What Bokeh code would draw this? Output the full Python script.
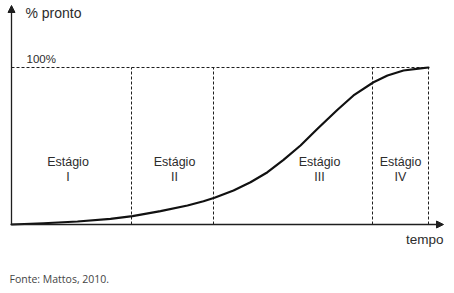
from bokeh.plotting import figure
from bokeh.models import Range1d, Label, Arrow, NormalHead
from bokeh.embed import file_html
from bokeh.resources import INLINE

# Data (time in arbitrary units, completion in %)
tempo = [0, 32, 66, 99, 121, 149, 176, 192, 203, 222, 239, 256, 272, 289, 306, 326, 342, 362, 376, 392, 409, 417]
pronto = [0, 0.8, 1.9, 3.6, 5.3, 8.5, 12.1, 14.8, 17.0, 21.7, 26.9, 33.3, 41.2, 50.3, 61.0, 73.1, 82.2, 90.6, 94.9, 98.1, 99.4, 100]
stage_bounds = [120, 202, 361, 417]
stage_names = ["Estágio", "Estágio", "Estágio", "Estágio"]
stage_numerals = ["I", "II", "III", "IV"]
stage_label_x = [56.5, 163, 308, 389]

PX = 1.57  # pixels per % on the y scale
UP = 4     # baseline correction in px

p = figure(width=454, height=293, output_backend="svg", toolbar_location=None,
           x_range=Range1d(-11, 443), y_range=Range1d(-43.95, 142.68),
           min_border=0, min_border_left=0, min_border_right=0,
           min_border_top=0, min_border_bottom=0)
p.axis.visible = False
p.grid.visible = False
p.outline_line_color = None
p.background_fill_color = "white"

line_col = "#1e1e1e"
txt_col = "#2c2c2c"
font = "Liberation Sans"

def ypx(py):
    return (224 - py + UP) / PX

# 100% dashed line
p.line([0, stage_bounds[-1]], [100, 100], line_color=line_col, line_width=1, line_dash="3 2")
# vertical dashed boundaries
for b in stage_bounds:
    p.line([b, b], [0, 100], line_color=line_col, line_width=1, line_dash="3 2")

# curve
p.line(tempo, pronto, line_color="#111111", line_width=2.2, line_join="round", line_cap="round")

# axes with arrows
p.add_layout(Arrow(end=NormalHead(size=7, fill_color=line_col, line_color=line_col),
                   x_start=0, y_start=0, x_end=0, y_end=139.5,
                   line_color=line_col, line_width=1.3))
p.add_layout(Arrow(end=NormalHead(size=7, fill_color=line_col, line_color=line_col),
                   x_start=0, y_start=0, x_end=432, y_end=0,
                   line_color=line_col, line_width=1.3))

# texts
p.add_layout(Label(x=14, y=ypx(16), text="% pronto", text_font=font,
                   text_font_size="14px", text_color=txt_col, text_baseline="alphabetic"))
p.add_layout(Label(x=15, y=ypx(62), text="100%", text_font=font,
                   text_font_size="11.5px", text_color=txt_col, text_baseline="alphabetic"))
p.add_layout(Label(x=432, y=ypx(243), text="tempo", text_font=font,
                   text_font_size="13.5px", text_color=txt_col, text_baseline="alphabetic",
                   text_align="right"))
for sx, nm, num in zip(stage_label_x, stage_names, stage_numerals):
    p.add_layout(Label(x=sx, y=ypx(165), text=nm, text_font=font,
                       text_font_size="12.5px", text_color=txt_col,
                       text_baseline="alphabetic", text_align="center"))
    p.add_layout(Label(x=sx, y=ypx(180), text=num, text_font=font,
                       text_font_size="12.5px", text_color=txt_col,
                       text_baseline="alphabetic", text_align="center"))

p.add_layout(Label(x=-2, y=ypx(283), text="Fonte: Mattos, 2010.", text_font="Open Sans",
                   text_font_size="10.5px", text_color="#444444", text_baseline="alphabetic"))

open("out.html", "w").write(file_html(p, INLINE))
